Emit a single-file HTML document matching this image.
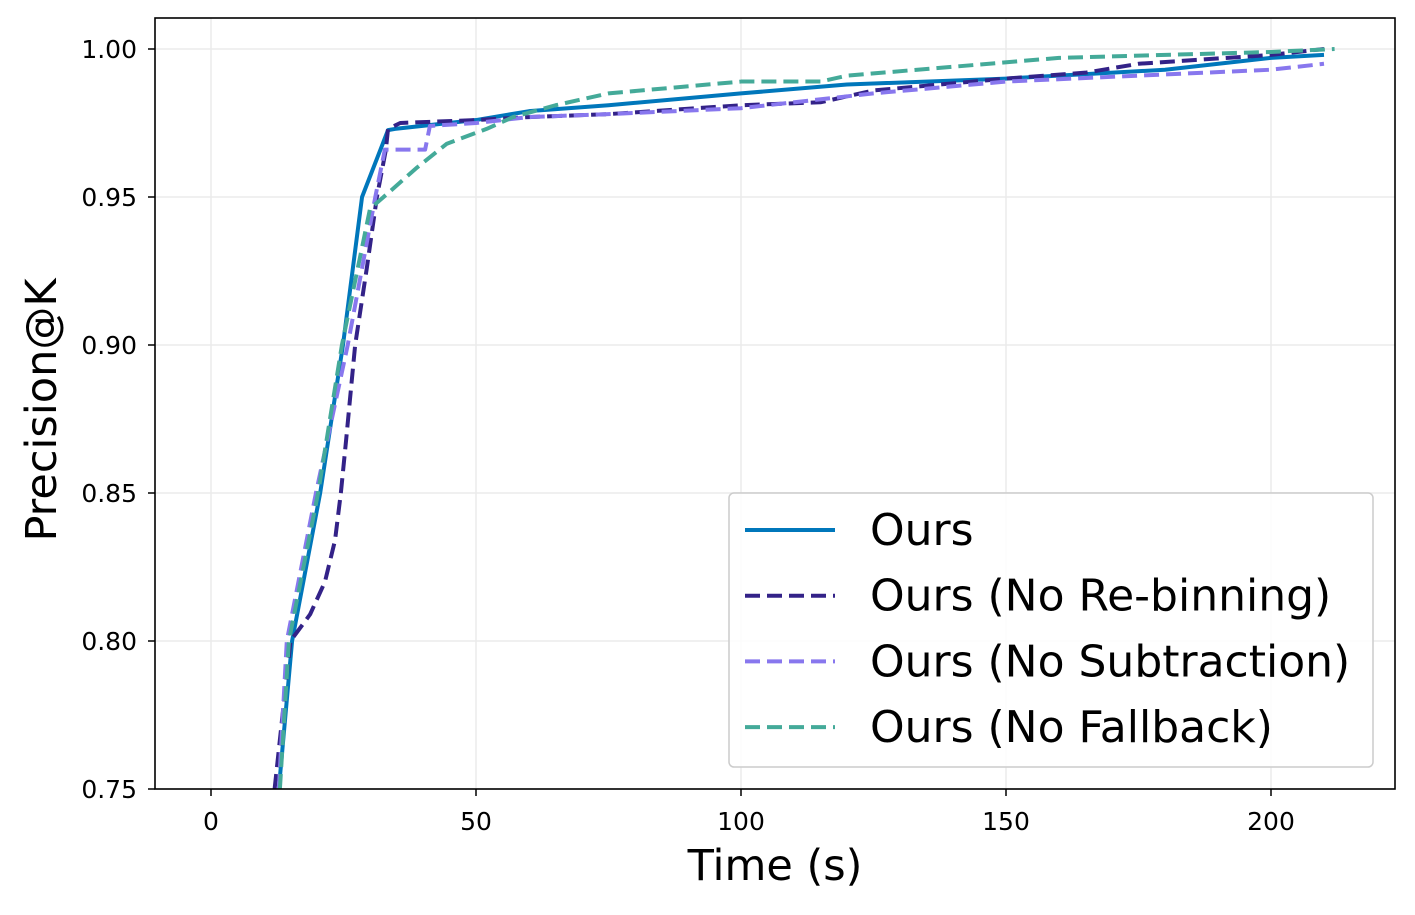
<!DOCTYPE html>
<html><head><meta charset="utf-8"><style>
body{margin:0;background:#fff;font-family:"DejaVu Sans",sans-serif}
</style></head><body>
<svg id="chart" width="1415" height="911" xmlns="http://www.w3.org/2000/svg" font-family="DejaVu Sans, sans-serif">
<g id="grid"></g>
<g id="series"></g>
<rect x="155" y="18" width="1240" height="771" fill="none" stroke="#000" stroke-width="1.6"/>
<g id="ticks"></g>
<text x="775" y="880" font-size="43" text-anchor="middle">Time (s)</text>
<text transform="translate(56,410) rotate(-90)" font-size="43" text-anchor="middle">Precision@K</text>
<g>
<rect x="729" y="493" width="644" height="274" rx="5" fill="#fff" fill-opacity="0.85" stroke="#ccc" stroke-width="1.5"/>
<g id="legend-items"></g>
</g>
</svg>
<script>
const xTicks=[0,50,100,150,200];
const yTicks=[0.75,0.80,0.85,0.90,0.95,1.00];
const seriesNames=["Ours","Ours (No Re-binning)","Ours (No Subtraction)","Ours (No Fallback)"];
const seriesColors=["#0077bb","#332288","#8877ee","#44aa99"];
const oursT=[12.8,15.3,20.6,24.9,28.5,33.4,34.7,50,60,75,100,120,150,180,200,210];
const oursP=[0.75,0.80,0.85,0.90,0.95,0.9726,0.973,0.976,0.979,0.981,0.985,0.988,0.990,0.993,0.997,0.998];
const rebinT=[12,15,18.7,21.5,23.4,24.5,25.5,26.4,27.2,29.4,31.3,33,33.4,35.7,50,60,75,100,115,125,150,165,175,200,210];
const rebinP=[0.75,0.80,0.809,0.82,0.834,0.85,0.868,0.885,0.90,0.926,0.95,0.966,0.973,0.975,0.976,0.977,0.978,0.981,0.982,0.986,0.990,0.992,0.995,0.998,1.0];
const subT=[12.8,14.3,19.8,25.8,31,32.8,40.4,41.3,50,60,75,100,125,150,175,200,210];
const subP=[0.75,0.80,0.85,0.90,0.95,0.966,0.966,0.974,0.975,0.977,0.978,0.980,0.985,0.989,0.991,0.993,0.995];
const fbT=[13,14.7,20.2,24.7,30,33.2,38.9,44.5,52,57,65,75,100,115,120,140,160,200,212];
const fbP=[0.75,0.80,0.85,0.90,0.946,0.951,0.960,0.968,0.973,0.977,0.981,0.985,0.989,0.989,0.991,0.994,0.997,0.999,1.0];
const seriesT=[oursT,rebinT,subT,fbT];
const seriesP=[oursP,rebinP,subP,fbP];
const NS="http://www.w3.org/2000/svg";
const X=t=>211+t*5.3, Y=p=>49+(1-p)*2960;
function mk(tag,parent){const e=document.createElementNS(NS,tag);parent.appendChild(e);return e;}
const grid=document.getElementById('grid'),ticks=document.getElementById('ticks');
xTicks.forEach(v=>{
 const l=mk('line',grid);l.setAttribute('x1',X(v));l.setAttribute('x2',X(v));l.setAttribute('y1',18);l.setAttribute('y2',789);l.setAttribute('stroke','#ebebeb');l.setAttribute('stroke-width',1.5);
 
 
 const k=mk('line',ticks);k.setAttribute('x1',X(v));k.setAttribute('x2',X(v));k.setAttribute('y1',789);k.setAttribute('y2',796);k.setAttribute('stroke','#000');k.setAttribute('stroke-width',1.5);
 
 
 const t=mk('text',ticks);t.textContent=v;t.setAttribute('x',X(v));t.setAttribute('y',830);t.setAttribute('font-size',25);t.setAttribute('text-anchor','middle');
 
 
});
yTicks.forEach(v=>{
 const l=mk('line',grid);l.setAttribute('x1',155);l.setAttribute('x2',1395);l.setAttribute('y1',Y(v));l.setAttribute('y2',Y(v));l.setAttribute('stroke','#ebebeb');l.setAttribute('stroke-width',1.5);
 
 
 const k=mk('line',ticks);k.setAttribute('x1',148);k.setAttribute('x2',155);k.setAttribute('y1',Y(v));k.setAttribute('y2',Y(v));k.setAttribute('stroke','#000');k.setAttribute('stroke-width',1.5);
 
 
 const t=mk('text',ticks);t.textContent=v.toFixed(2);t.setAttribute('x',137);t.setAttribute('y',Y(v)+9);t.setAttribute('font-size',25);t.setAttribute('text-anchor','end');
 
 
});
const sg=document.getElementById('series'),lg=document.getElementById('legend-items');
seriesNames.forEach((n,i)=>{
 const p=mk('polyline',sg);
 p.setAttribute('points',seriesT[i].map((t,j)=>X(t)+','+Y(seriesP[i][j])).join(' '));
 p.setAttribute('fill','none');p.setAttribute('stroke',seriesColors[i]);p.setAttribute('stroke-width',4);p.setAttribute('stroke-linejoin','round');
 if(i>0)p.setAttribute('stroke-dasharray','15,7');
 
 
 const y=530+i*65.7;
 const l=mk('line',lg);l.setAttribute('x1',745);l.setAttribute('x2',835);l.setAttribute('y1',y);l.setAttribute('y2',y);l.setAttribute('stroke',seriesColors[i]);l.setAttribute('stroke-width',4);
 if(i>0)l.setAttribute('stroke-dasharray','15,7');
 
 
 const t=mk('text',lg);t.textContent=n;t.setAttribute('x',870);t.setAttribute('y',y+15);t.setAttribute('font-size',44);
 
 
});
</script>
</body></html>
